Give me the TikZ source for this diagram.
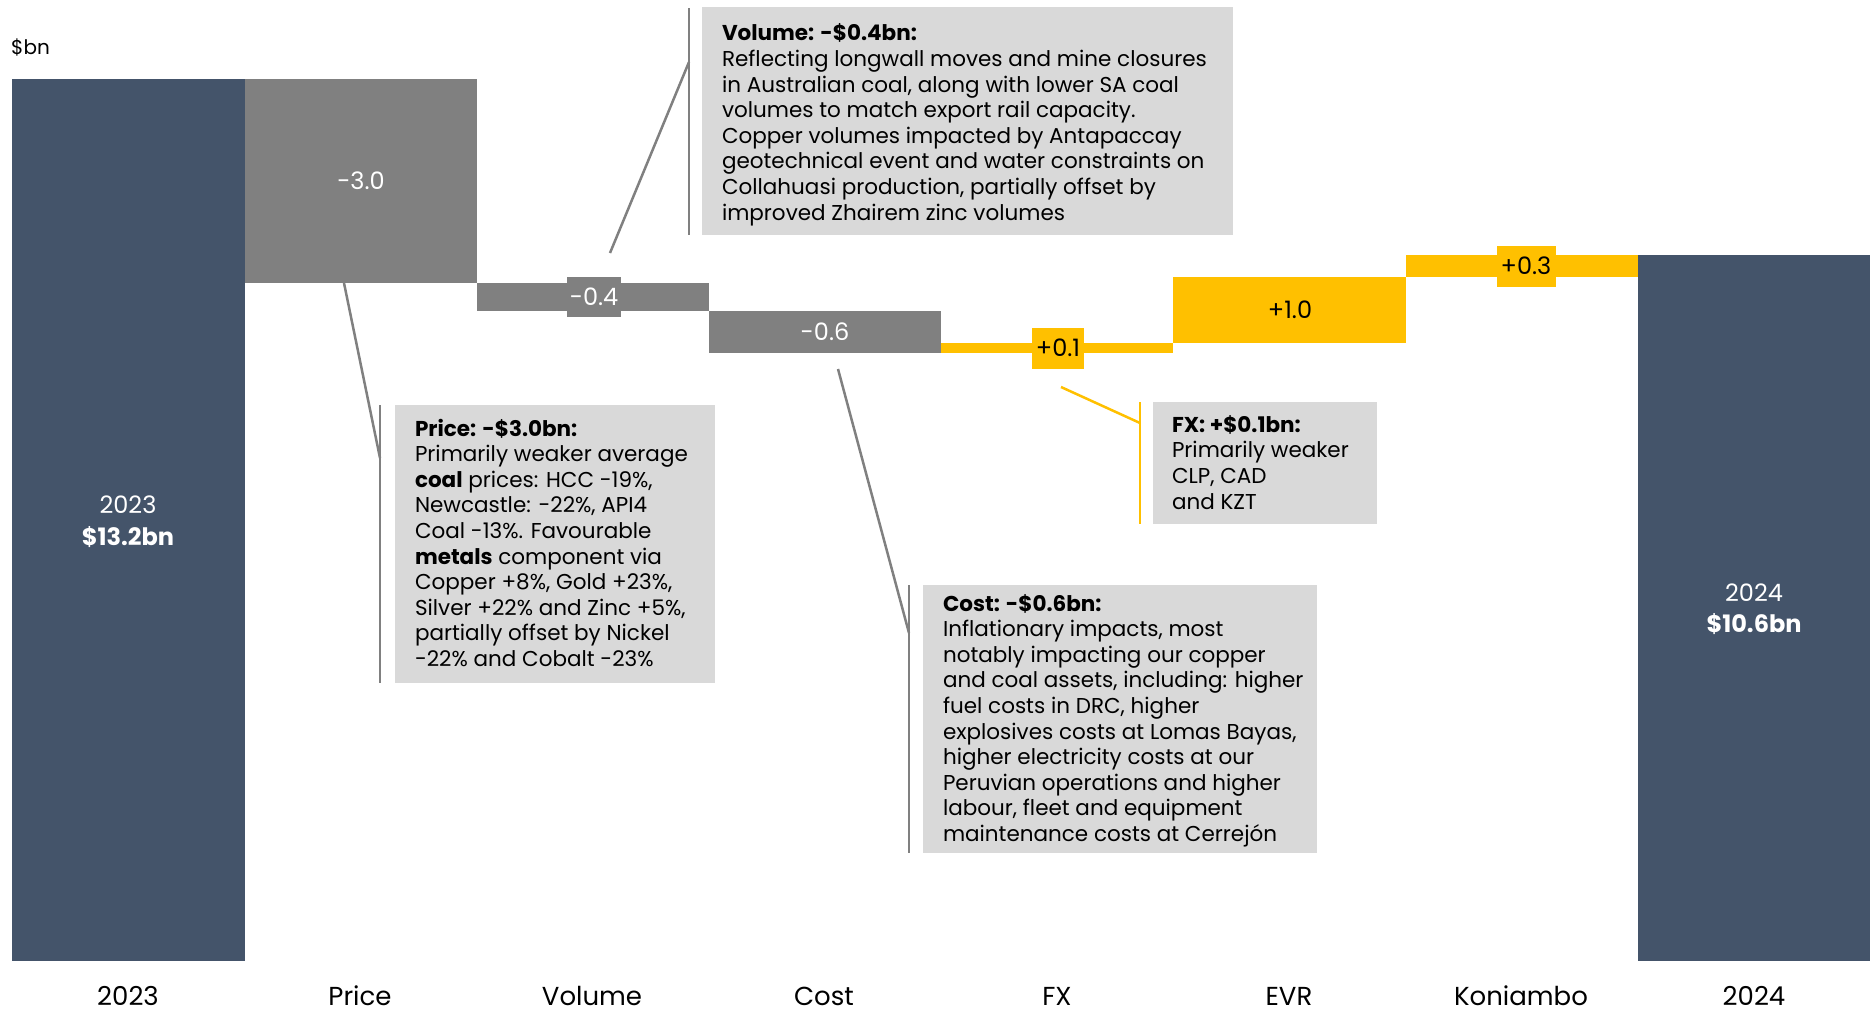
\documentclass[tikz,border=0pt]{standalone}
\usepackage{fontspec}
\setmainfont{Poppins}
\definecolor{navy}{HTML}{44546A}
\definecolor{barg}{HTML}{808080}
\definecolor{gold}{HTML}{FFC000}
\definecolor{boxg}{HTML}{D9D9D9}
\tikzset{
  bar/.style={inner sep=0pt, outer sep=0pt, anchor=north west, rectangle},
  val/.style={inner sep=0pt, outer sep=0pt, font=\fontsize{24}{28}\selectfont},
  tagbox/.style={inner sep=0pt, outer sep=0pt, font=\fontsize{24}{28}\selectfont},
  callbox/.style={fill=boxg, inner sep=0pt, outer sep=0pt, anchor=north west},
  calltext/.style={inner sep=0pt, outer sep=0pt, anchor=base west, align=left, font=\fontsize{21.5}{25.6}\selectfont},
  lead/.style={draw=barg, line width=2.5pt},
  leady/.style={draw=gold, line width=2.5pt},
  axlab/.style={inner sep=0pt, font=\fontsize{26}{30}\selectfont},
}
\begin{document}
\begin{tikzpicture}[x=1pt,y=-1pt]
\useasboundingbox (0,0) rectangle (1875,1010);
% unit label
\node[inner sep=0pt, anchor=base west, font=\fontsize{20}{24}\selectfont] (unit) at (11,54) {\$bn};
% bars
\node[bar, fill=navy, minimum width=233, minimum height=882] (b2023) at (12,79) {};
\node[bar, fill=barg, minimum width=232, minimum height=204] (bprice) at (245,79) {};
\node[bar, fill=barg, minimum width=232, minimum height=28] (bvol) at (477,283) {};
\node[bar, fill=barg, minimum width=232, minimum height=42] (bcost) at (709,311) {};
\node[bar, fill=gold, minimum width=232, minimum height=10] (bfx) at (941,343) {};
\node[bar, fill=gold, minimum width=233, minimum height=66] (bevr) at (1173,277) {};
\node[bar, fill=gold, minimum width=232, minimum height=22] (bkon) at (1406,255) {};
\node[bar, fill=navy, minimum width=232, minimum height=706] (b2024) at (1638,255) {};
% value labels
\node[val, text=white] (v2023a) at (128,505) {2023};
\node[val, text=white] (v2023b) at (128,537) {\textbf{\$13.2bn}};
\node[val, text=white] (v2024a) at (1754,593) {2024};
\node[val, text=white] (v2024b) at (1754,624) {\textbf{\$10.6bn}};
\node[val, text=white] (vprice) at (361,181) {-3.0};
\node[tagbox, fill=barg, text=white, minimum width=54, minimum height=40] (vvol) at (594,297) {-0.4};
\node[val, text=white] (vcost) at (825,332) {-0.6};
\node[tagbox, fill=gold, text=black, minimum width=52, minimum height=41] (vfx) at (1058,348) {+0.1};
\node[val, text=black] (vevr) at (1290,310) {+1.0};
\node[tagbox, fill=gold, text=black, minimum width=59, minimum height=41] (vkon) at (1526,266) {+0.3};
% axis labels
\node[axlab] (x1) at (128,996) {2023};
\node[axlab] (x2) at (360,996) {Price};
\node[axlab] (x3) at (592,996) {Volume};
\node[axlab] (x4) at (824,996) {Cost};
\node[axlab] (x5) at (1057,996) {FX};
\node[axlab] (x6) at (1289,996) {EVR};
\node[axlab] (x7) at (1521,996) {Koniambo};
\node[axlab] (x8) at (1754,996) {2024};
% callout boxes (text anchored at the baseline of its last line)
\node[callbox, minimum width=531, minimum height=228] (volbox) at (702,7) {};
\node[calltext] (voltext) at (722,220) {\textbf{Volume: -\$0.4bn:}\\Reflecting longwall moves and mine closures\\in Australian coal, along with lower SA coal\\volumes to match export rail capacity.\\Copper volumes impacted by Antapaccay\\geotechnical event and water constraints on\\Collahuasi production, partially offset by\\improved Zhairem zinc volumes};
\node[callbox, minimum width=320, minimum height=278] (pricebox) at (395,405) {};
\node[calltext] (pricetext) at (415,666.5) {\textbf{Price: -\$3.0bn:}\\Primarily weaker average\\\textbf{coal} prices: HCC -19\%,\\Newcastle: -22\%, API4\\Coal -13\%. Favourable\\\textbf{metals} component via\\Copper +8\%, Gold +23\%,\\Silver +22\% and Zinc +5\%,\\partially offset by Nickel\\-22\% and Cobalt -23\%};
\node[callbox, minimum width=394, minimum height=268] (costbox) at (923,585) {};
\node[calltext] (costtext) at (943,841.5) {\textbf{Cost: -\$0.6bn:}\\Inflationary impacts, most\\notably impacting our copper\\and coal assets, including: higher\\fuel costs in DRC, higher\\explosives costs at Lomas Bayas,\\higher electricity costs at our\\Peruvian operations and higher\\labour, fleet and equipment\\maintenance costs at Cerrejón};
\node[callbox, minimum width=224, minimum height=122] (fxbox) at (1153,402) {};
\node[calltext] (fxtext) at (1172,509) {\textbf{FX: +\$0.1bn:}\\Primarily weaker\\CLP, CAD\\and KZT};
% leader coordinates
\coordinate (vs) at (610,253); \coordinate (vj) at (689,62);
\coordinate (vt) at (689,8); \coordinate (vb) at (689,235);
\coordinate (ps) at (344,283); \coordinate (pj) at (380,458);
\coordinate (pt) at (380,405); \coordinate (pb) at (380,683);
\coordinate (cs) at (838,369); \coordinate (cj) at (909,633);
\coordinate (ct) at (909,585); \coordinate (cb) at (909,853);
\coordinate (fs) at (1061,387); \coordinate (fj) at (1140,423);
\coordinate (ft) at (1140,402); \coordinate (fb) at (1140,524);
% leaders
\draw[lead] (vs) -- (vj); \draw[lead] (vt) -- (vb);
\draw[lead] (ps) -- (pj); \draw[lead] (pt) -- (pb);
\draw[lead] (cs) -- (cj); \draw[lead] (ct) -- (cb);
\draw[leady] (fs) -- (fj); \draw[leady] (ft) -- (fb);
\end{tikzpicture}
\end{document}
